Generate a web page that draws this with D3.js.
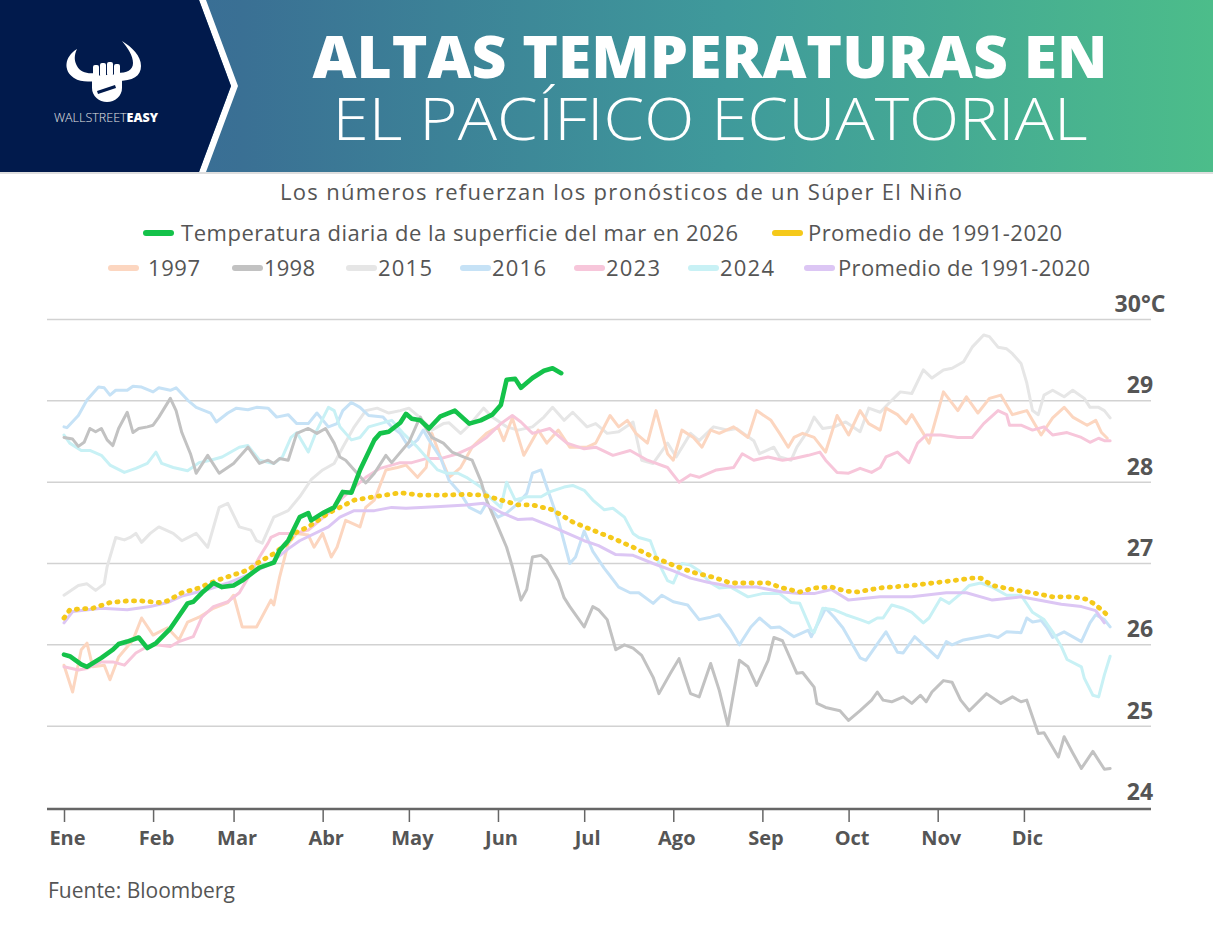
<!DOCTYPE html>
<html>
<head>
<meta charset="utf-8">
<script src="https://cdn.jsdelivr.net/npm/d3@7/dist/d3.min.js"></script>
<style>
  html, body { margin: 0; padding: 0; background: #fff; }
  svg { display: block; }
  text { font-family: "Open Sans", "Noto Sans", sans-serif; }
</style>
</head>
<body>
<svg id="chart" width="1213" height="930"></svg>
<script>
// ---------------- DATA (day of year, °C) ----------------
const monthLabels = ["Ene","Feb","Mar","Abr","May","Jun","Jul","Ago","Sep","Oct","Nov","Dic"];
const yTickValues = [24, 25, 26, 27, 28, 29, 30];

const s2026 = [[0,25.88],[2,25.86],[6,25.76],[8,25.73],[13,25.84],[17,25.94],[19,26.01],[22,26.04],[26,26.09],[29,25.96],[32,26.02],[37,26.2],[43,26.51],[45,26.53],[48,26.64],[52,26.76],[55,26.71],[59,26.73],[62,26.79],[68,26.95],[73,27.01],[75,27.16],[78,27.28],[82,27.57],[85,27.62],[86,27.53],[90,27.62],[94,27.69],[97,27.88],[100,27.87],[103,28.15],[108,28.52],[110,28.6],[113,28.62],[117,28.73],[119,28.84],[121,28.78],[124,28.76],[127,28.66],[131,28.81],[136,28.88],[141,28.72],[145,28.76],[149,28.83],[152,28.95],[154,29.26],[157,29.27],[159,29.16],[163,29.28],[167,29.37],[170,29.4],[173,29.34]];

const avgYellow = [[0,26.33],[2,26.43],[5,26.44],[10,26.45],[16,26.52],[22,26.54],[27,26.54],[33,26.52],[36,26.54],[41,26.64],[47,26.7],[53,26.79],[59,26.86],[64,26.92],[68,27.02],[73,27.12],[78,27.26],[80,27.37],[85,27.45],[92,27.62],[96,27.69],[101,27.78],[108,27.82],[117,27.87],[124,27.84],[131,27.84],[140,27.85],[146,27.84],[152,27.78],[158,27.72],[163,27.72],[170,27.66],[177,27.51],[184,27.41],[191,27.31],[198,27.2],[205,27.08],[212,26.98],[219,26.89],[226,26.83],[232,26.76],[239,26.76],[245,26.76],[250,26.7],[256,26.65],[261,26.7],[267,26.71],[272,26.66],[276,26.65],[284,26.7],[295,26.73],[307,26.78],[316,26.82],[319,26.82],[323,26.73],[330,26.68],[337,26.64],[344,26.59],[351,26.59],[356,26.56],[359,26.49],[362,26.4],[364,26.33]];

const avgPurple = [[0,26.27],[3,26.41],[13,26.45],[22,26.43],[30,26.47],[36,26.52],[41,26.6],[50,26.68],[57,26.76],[64,26.86],[71,26.98],[78,27.18],[82,27.28],[92,27.45],[96,27.57],[101,27.65],[108,27.65],[114,27.69],[119,27.68],[131,27.7],[140,27.72],[146,27.74],[152,27.63],[158,27.54],[163,27.55],[170,27.45],[181,27.28],[186,27.22],[192,27.11],[198,27.1],[205,27.0],[212,26.91],[218,26.82],[224,26.77],[233,26.71],[241,26.71],[250,26.65],[256,26.63],[261,26.63],[267,26.68],[273,26.55],[284,26.59],[295,26.59],[307,26.64],[314,26.64],[323,26.55],[333,26.59],[347,26.5],[354,26.47],[359,26.42],[362,26.27]];

const s1997 = [[0,25.75],[3,25.42],[6,25.94],[8,26.02],[10,25.73],[14,25.75],[16,25.57],[19,25.85],[24,26.06],[27,26.33],[31,26.12],[36,26.21],[40,26.06],[43,26.28],[47,26.34],[52,26.45],[57,26.52],[59,26.61],[62,26.22],[67,26.22],[72,26.55],[73,26.49],[75,26.83],[78,27.24],[81,27.37],[85,27.35],[87,27.2],[90,27.37],[93,27.08],[95,27.2],[98,27.53],[103,27.45],[105,27.69],[108,27.78],[112,28.15],[116,28.18],[119,28.21],[123,28.06],[126,28.18],[128,28.6],[131,28.31],[134,28.06],[138,28.18],[142,28.43],[147,28.6],[151,28.68],[153,28.51],[156,28.79],[160,28.33],[165,28.64],[168,28.48],[172,28.64],[176,28.43],[182,28.43],[185,28.48],[190,28.82],[193,28.68],[196,28.76],[199,28.6],[203,28.48],[206,28.88],[210,28.35],[212,28.27],[215,28.64],[219,28.55],[222,28.43],[225,28.64],[228,28.6],[233,28.68],[238,28.55],[241,28.88],[246,28.76],[249,28.6],[252,28.43],[254,28.55],[257,28.6],[261,28.55],[265,28.37],[269,28.82],[273,28.58],[277,28.88],[280,28.72],[284,28.64],[286,28.91],[290,28.83],[293,28.72],[295,28.83],[299,28.6],[301,28.48],[306,29.11],[311,28.88],[314,29.05],[318,28.85],[322,29.03],[326,29.07],[330,28.83],[335,28.88],[340,28.58],[344,28.79],[348,28.92],[351,28.8],[356,28.7],[359,28.76],[361,28.61],[363,28.54]];

const s1998 = [[0,28.55],[3,28.53],[5,28.44],[7,28.49],[9,28.66],[11,28.62],[13,28.66],[15,28.52],[17,28.45],[19,28.66],[22,28.86],[24,28.61],[26,28.66],[29,28.68],[31,28.7],[33,28.8],[37,29.03],[39,28.88],[41,28.61],[44,28.35],[46,28.11],[50,28.33],[54,28.11],[59,28.23],[64,28.43],[68,28.23],[71,28.27],[73,28.23],[75,28.29],[78,28.27],[81,28.6],[85,28.66],[88,28.6],[91,28.66],[94,28.48],[96,28.31],[98,28.27],[101,28.15],[105,27.99],[108,28.11],[112,28.33],[114,28.24],[120,28.49],[123,28.73],[124,28.8],[126,28.66],[128,28.55],[132,28.48],[135,28.37],[139,28.31],[142,28.27],[145,28.02],[147,27.78],[151,27.45],[154,27.2],[156,26.96],[159,26.55],[161,26.68],[163,27.08],[166,27.1],[168,27.04],[172,26.79],[174,26.58],[176,26.47],[181,26.22],[184,26.47],[186,26.43],[189,26.31],[192,25.94],[195,26.0],[198,25.96],[201,25.87],[205,25.6],[207,25.4],[211,25.65],[214,25.83],[218,25.4],[221,25.36],[225,25.77],[228,25.44],[231,25.01],[235,25.81],[238,25.73],[241,25.5],[245,25.81],[247,26.09],[250,26.05],[255,25.65],[257,25.66],[261,25.48],[262,25.28],[265,25.23],[270,25.19],[273,25.07],[277,25.19],[281,25.32],[283,25.42],[285,25.32],[288,25.3],[292,25.36],[295,25.28],[298,25.38],[300,25.3],[302,25.42],[306,25.56],[309,25.54],[312,25.32],[315,25.19],[321,25.4],[326,25.28],[330,25.36],[333,25.3],[335,25.32],[339,24.91],[341,24.92],[346,24.62],[348,24.87],[351,24.67],[354,24.48],[358,24.69],[362,24.47],[364,24.48]];

const s2015 = [[0,26.61],[5,26.73],[8,26.75],[11,26.67],[14,26.75],[15,26.96],[18,27.32],[21,27.29],[23,27.32],[25,27.37],[27,27.26],[30,27.37],[33,27.45],[38,27.37],[41,27.28],[46,27.37],[50,27.2],[54,27.69],[57,27.74],[61,27.45],[65,27.41],[67,27.28],[69,27.25],[73,27.57],[78,27.65],[82,27.82],[86,28.03],[90,28.15],[94,28.23],[97,28.43],[101,28.68],[105,28.88],[109,28.91],[113,28.85],[117,28.88],[120,28.91],[124,28.79],[128,28.64],[132,28.72],[134,28.73],[138,28.6],[141,28.7],[146,28.91],[149,28.8],[154,28.68],[158,28.64],[163,28.68],[167,28.8],[170,28.92],[174,28.76],[177,28.86],[182,28.68],[185,28.72],[189,28.6],[193,28.62],[198,28.74],[201,28.27],[205,28.23],[210,28.48],[213,28.31],[218,28.6],[221,28.51],[226,28.68],[231,28.64],[234,28.66],[240,28.51],[242,28.35],[247,28.43],[249,28.31],[253,28.27],[255,28.43],[259,28.64],[261,28.8],[264,28.66],[268,28.68],[272,28.74],[277,28.62],[280,28.91],[284,28.86],[287,28.97],[291,29.11],[295,29.09],[299,29.38],[302,29.28],[306,29.38],[309,29.4],[313,29.48],[316,29.66],[320,29.81],[322,29.79],[325,29.66],[328,29.64],[330,29.58],[333,29.46],[335,29.22],[337,28.88],[339,28.83],[341,29.07],[344,29.13],[348,29.05],[351,29.13],[355,29.03],[357,28.92],[360,28.92],[362,28.88],[364,28.79]];

const s2016 = [[0,28.68],[1,28.67],[5,28.82],[8,29.01],[12,29.17],[14,29.16],[16,29.07],[18,29.13],[22,29.13],[24,29.18],[27,29.17],[31,29.11],[33,29.16],[37,29.13],[39,29.16],[43,29.01],[46,28.92],[51,28.85],[53,28.74],[57,28.85],[60,28.91],[64,28.89],[67,28.92],[71,28.91],[74,28.8],[78,28.83],[81,28.72],[85,28.72],[88,28.85],[92,28.68],[95,28.72],[97,28.88],[100,28.98],[103,28.92],[106,28.82],[111,28.8],[114,28.68],[117,28.6],[120,28.43],[123,28.52],[125,28.64],[127,28.52],[131,28.3],[134,28.02],[138,27.86],[141,27.69],[145,27.62],[147,27.74],[151,27.57],[154,27.62],[158,27.74],[161,27.86],[163,28.11],[166,28.15],[168,27.94],[172,27.53],[176,27.0],[178,27.08],[181,27.4],[184,27.15],[188,26.94],[190,26.85],[193,26.71],[197,26.64],[200,26.64],[205,26.51],[208,26.61],[212,26.53],[217,26.49],[221,26.31],[225,26.34],[228,26.37],[232,26.18],[235,26.0],[239,26.22],[242,26.33],[246,26.21],[249,26.22],[254,26.1],[259,26.18],[260,26.1],[265,26.45],[268,26.34],[271,26.21],[277,25.84],[279,25.81],[284,26.06],[286,26.16],[290,25.91],[292,25.9],[296,26.1],[300,25.97],[304,25.84],[307,26.04],[309,26.0],[313,26.06],[319,26.1],[322,26.12],[325,26.09],[328,26.16],[333,26.15],[335,26.33],[337,26.28],[340,26.3],[342,26.21],[344,26.09],[348,26.16],[354,26.04],[357,26.27],[359,26.37],[362,26.31],[364,26.22]];

const s2023 = [[0,25.73],[5,25.69],[8,25.71],[13,25.79],[17,25.79],[21,25.75],[25,25.9],[29,25.98],[32,26.0],[37,25.98],[40,26.04],[45,26.1],[48,26.34],[52,26.47],[57,26.53],[61,26.64],[65,26.88],[68,27.08],[71,27.25],[72,27.32],[75,27.37],[80,27.37],[85,27.41],[92,27.62],[96,27.78],[101,27.94],[105,28.06],[110,28.17],[117,28.24],[121,28.24],[126,28.29],[131,28.29],[137,28.35],[142,28.43],[147,28.55],[152,28.72],[156,28.82],[159,28.74],[163,28.6],[169,28.66],[175,28.48],[181,28.41],[185,28.43],[191,28.33],[197,28.39],[203,28.27],[210,28.18],[214,28.0],[218,28.09],[221,28.06],[227,28.15],[233,28.18],[236,28.35],[240,28.27],[245,28.31],[250,28.27],[254,28.29],[259,28.33],[263,28.37],[265,28.27],[269,28.12],[273,28.11],[277,28.17],[281,28.12],[284,28.18],[286,28.31],[290,28.37],[294,28.24],[297,28.48],[300,28.58],[305,28.58],[311,28.55],[316,28.55],[320,28.72],[325,28.88],[328,28.83],[329,28.7],[333,28.7],[337,28.64],[341,28.68],[344,28.58],[349,28.61],[354,28.55],[357,28.49],[360,28.54],[362,28.51],[364,28.51]];

const s2024 = [[0,28.58],[2,28.48],[6,28.39],[9,28.39],[13,28.33],[16,28.21],[21,28.12],[25,28.17],[29,28.23],[32,28.37],[34,28.23],[38,28.18],[43,28.14],[47,28.24],[51,28.27],[55,28.31],[61,28.43],[64,28.45],[68,28.27],[73,28.23],[76,28.31],[79,28.55],[81,28.61],[85,28.37],[88,28.64],[92,28.92],[94,28.88],[96,28.68],[100,28.52],[103,28.55],[106,28.68],[110,28.72],[114,28.76],[118,28.6],[123,28.43],[126,28.31],[130,28.15],[133,28.11],[137,28.11],[140,28.06],[145,27.94],[148,27.82],[152,27.69],[154,28.0],[157,27.78],[161,27.82],[166,27.82],[169,27.88],[174,27.94],[177,27.96],[181,27.9],[184,27.78],[188,27.66],[191,27.68],[195,27.57],[198,27.37],[200,27.32],[204,27.28],[207,27.0],[210,26.79],[212,26.76],[215,27.0],[218,26.98],[221,26.91],[225,26.76],[228,26.7],[232,26.71],[238,26.59],[243,26.63],[249,26.63],[253,26.52],[256,26.51],[260,26.18],[261,26.15],[264,26.45],[268,26.43],[272,26.37],[277,26.31],[280,26.27],[283,26.33],[285,26.33],[288,26.49],[292,26.45],[295,26.4],[299,26.27],[301,26.33],[305,26.57],[308,26.51],[312,26.63],[315,26.73],[319,26.76],[323,26.71],[328,26.61],[333,26.61],[337,26.4],[341,26.31],[344,26.16],[347,25.98],[349,25.82],[354,25.73],[355,25.59],[358,25.38],[360,25.36],[362,25.63],[364,25.86]];

// ---------------- STYLE ----------------
const C = {
  green: "#14c24a", yellow: "#f5c91a", purple: "#dcc6f4",
  y1997: "#fcd6c0", y1998: "#c2c2c2", y2015: "#e6e6e6",
  y2016: "#c6e2f6", y2023: "#f7c6da", y2024: "#c8f1f5",
  text: "#555555", grid: "#d2d2d2", axis: "#666666"
};

const svg = d3.select("#chart");

// ---------------- HEADER ----------------
const defs = svg.append("defs");
const grad = defs.append("linearGradient").attr("id","hdr").attr("x1","0%").attr("x2","100%");
grad.append("stop").attr("offset","0%").attr("stop-color","#37689a");
grad.append("stop").attr("offset","20%").attr("stop-color","#3a7094");
grad.append("stop").attr("offset","60%").attr("stop-color","#3f9a9b");
grad.append("stop").attr("offset","100%").attr("stop-color","#4cbd8a");
svg.append("rect").attr("x",0).attr("y",0).attr("width",1213).attr("height",172).attr("fill","url(#hdr)");
svg.append("rect").attr("x",0).attr("y",172).attr("width",1213).attr("height",2).attr("fill","#dedede");
svg.append("polygon").attr("points","199,0 206,0 238,86 206,172 199,172 231,86").attr("fill","#ffffff");
svg.append("polygon").attr("points","0,0 199,0 231,86 199,172 0,172").attr("fill","#011a4c");

// logo
const logo = svg.append("g").attr("fill","#ffffff");
logo.append("path").attr("d","M77,49 C64,57 63,71 74,78 C80,82 88,82 95,81 L95,73 C87,74 80,72 77,66 C74,61 74,55 77,49 Z");
logo.append("path").attr("d","M122,41 C132,47 141,56 141,66 C141,76 133,81 117,81 L117,73 C127,73 133,70 133,63 C133,56 128,48 122,41 Z");
logo.append("path").attr("d","M92,76 L92,88 C92,96 99,102 107,102 C115,102 122,96 122,88 L122,74 Z");
[[93,65],[100,63],[107,62],[114,64]].forEach(p => {
  logo.append("rect").attr("x",p[0]).attr("y",p[1]).attr("width",6).attr("height",14).attr("rx",2);
});
logo.append("path").attr("d","M97,91 L115,85 L116,88 L98,94 Z").attr("fill","#011a4c");
const lt = svg.append("text").attr("x",106).attr("y",122).attr("text-anchor","middle")
  .attr("font-size",12.5).attr("fill","#ffffff");
lt.append("tspan").attr("font-weight",300).attr("fill","#e4e4e4").text("WALLSTREET");
lt.append("tspan").attr("font-weight",800).text("EASY");

// title
svg.append("text").attr("x",710).attr("y",78).attr("text-anchor","middle")
  .attr("font-family","Lato, 'Open Sans', sans-serif").attr("font-weight",900)
  .attr("font-size",58).attr("fill","#ffffff")
  .attr("textLength",795).attr("lengthAdjust","spacingAndGlyphs")
  .text("ALTAS TEMPERATURAS EN");
svg.append("text").attr("x",710).attr("y",140).attr("text-anchor","middle")
  .attr("font-family","Lato, 'Open Sans', sans-serif").attr("font-weight",300)
  .attr("font-size",58).attr("fill","#ffffff")
  .attr("textLength",755).attr("lengthAdjust","spacingAndGlyphs")
  .text("EL PACÍFICO ECUATORIAL");

// subtitle
svg.append("text").attr("x",621).attr("y",200).attr("text-anchor","middle")
  .attr("font-size",22).attr("fill",C.text)
  .attr("textLength",682).attr("lengthAdjust","spacing")
  .text("Los números refuerzan los pronósticos de un Súper El Niño");

// ---------------- LEGEND ----------------
const legendItems = [
  {label:"Temperatura diaria de la superficie del mar en 2026", color:C.green, sx:143, tx:181, tw:557, row:0},
  {label:"Promedio de 1991-2020", color:C.yellow, sx:772, tx:808, tw:254, row:0},
  {label:"1997", color:C.y1997, sx:108, tx:148, tw:52, row:1},
  {label:"1998", color:C.y1998, sx:232, tx:264, tw:51, row:1},
  {label:"2015", color:C.y2015, sx:346, tx:378, tw:54, row:1},
  {label:"2016", color:C.y2016, sx:460, tx:492, tw:54, row:1},
  {label:"2023", color:C.y2023, sx:574, tx:606, tw:54, row:1},
  {label:"2024", color:C.y2024, sx:688, tx:720, tw:54, row:1},
  {label:"Promedio de 1991-2020", color:C.purple, sx:804, tx:838, tw:252, row:1}
];
const rowY = [233, 268];
const lg = svg.append("g");
legendItems.forEach(it => {
  lg.append("rect").attr("x",it.sx).attr("y",rowY[it.row]-3).attr("width",31).attr("height",6)
    .attr("rx",3).attr("fill",it.color);
  lg.append("text").attr("x",it.tx).attr("y",rowY[it.row]+8).attr("font-size",22).attr("fill",C.text)
    .attr("textLength",it.tw).attr("lengthAdjust","spacing").text(it.label);
});

// ---------------- SCALES ----------------
const start = new Date(2026,0,1);
const toDate = d => d3.timeDay.offset(start, d);
const x = d3.scaleTime().domain([start, new Date(2027,0,1)]).range([64,1113]);
const y = d3.scaleLinear().domain([24,30]).range([807.5,319.5]);

// grid + y labels
const gridG = svg.append("g");
yTickValues.filter(v => v > 24).forEach(v => {
  gridG.append("line").attr("x1",47).attr("x2",1151).attr("y1",y(v)).attr("y2",y(v))
    .attr("stroke",C.grid).attr("stroke-width",1.5);
});
yTickValues.forEach(v => {
  gridG.append("text").attr("x",1140).attr("y",y(v)-7.5).attr("text-anchor","middle")
    .attr("font-size",23).attr("font-weight",700).attr("fill",C.text)
    .text(v === 30 ? "30°C" : v);
});

// x axis
const xAxis = d3.axisBottom(x)
  .tickValues(d3.range(12).map(m => new Date(2026,m,1)))
  .tickFormat(d => monthLabels[d.getMonth()])
  .tickSize(13).tickSizeOuter(0).tickPadding(9);
const xg = svg.append("g").attr("transform",`translate(0,${y(24)+1.5})`).call(xAxis);
xg.select(".domain").remove();
xg.selectAll(".tick line").attr("stroke",C.axis).attr("stroke-width",1.5);
xg.selectAll(".tick text").attr("font-size",20).attr("font-weight",700).attr("fill",C.text)
  .attr("font-family","'Open Sans', sans-serif").attr("dx",3);
svg.append("line").attr("x1",47).attr("x2",1151).attr("y1",y(24)+1.5).attr("y2",y(24)+1.5)
  .attr("stroke",C.axis).attr("stroke-width",2.5);

// ---------------- LINES ----------------
const line = d3.line().x(d => x(toDate(d[0]))).y(d => y(d[1]));
const plot = svg.append("g").attr("fill","none").attr("stroke-linejoin","round").attr("stroke-linecap","round");
const series = [
  {data:s2015, color:C.y2015, w:3},
  {data:s1997, color:C.y1997, w:3},
  {data:s2023, color:C.y2023, w:3},
  {data:s2016, color:C.y2016, w:3},
  {data:s2024, color:C.y2024, w:3},
  {data:s1998, color:C.y1998, w:3},
  {data:avgPurple, color:C.purple, w:3}
];
series.forEach(s => {
  plot.append("path").datum(s.data).attr("d",line).attr("stroke",s.color).attr("stroke-width",s.w);
});
plot.append("path").datum(avgYellow).attr("d",line).attr("stroke",C.yellow)
  .attr("stroke-width",4.8).attr("stroke-dasharray","1.2 7.1");
plot.append("path").datum(s2026).attr("d",line).attr("stroke",C.green).attr("stroke-width",4.6);

// source
svg.append("text").attr("x",48).attr("y",898).attr("font-size",21).attr("fill",C.text)
  .text("Fuente: Bloomberg");
</script>
</body>
</html>
